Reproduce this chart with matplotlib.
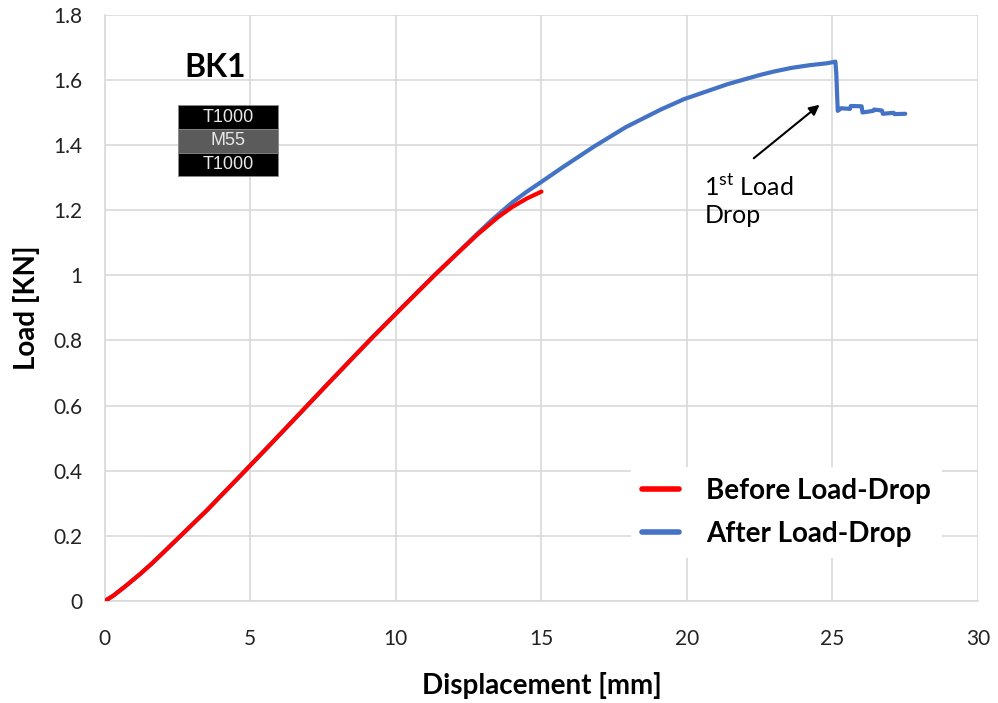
import matplotlib
matplotlib.use("Agg")
import matplotlib.pyplot as plt
from matplotlib.patches import Rectangle

plt.rcParams['font.family'] = ['Lato', 'DejaVu Sans']

# Load-displacement curve before the first load drop
disp_before = [0, 0.3, 0.7, 1.2, 1.6, 2, 2.6, 3.5, 4.8, 5.7, 6.7, 7.6, 8.5, 9.2, 10.2,
               11.3, 12.0, 12.8, 13.5, 14.0, 14.5, 15]
load_before = [0, 0.017, 0.045, 0.082, 0.114, 0.148, 0.2, 0.278, 0.398, 0.482, 0.576,
               0.661, 0.745, 0.81, 0.9, 0.998, 1.058, 1.125, 1.178, 1.21, 1.236, 1.257]

# Full curve, including the drop at ~25 mm
disp_after = [0, 0.3, 0.7, 1.2, 1.6, 2, 2.6, 3.5, 4.8, 5.7, 6.7, 7.6, 8.5, 9.2, 10.2,
              11.3, 12.0, 12.8, 13.3, 14.0, 14.5, 15.0, 15.7, 16.8, 17.9, 19.1, 19.9,
              21.4, 22.5, 23.0, 23.6, 24.2, 24.8, 25.1, 25.13, 25.18, 25.3, 25.6,
              25.63, 26.0, 26.03, 26.4, 26.43, 26.7, 26.73, 27.1, 27.13, 27.5]
load_after = [0, 0.017, 0.045, 0.082, 0.114, 0.148, 0.2, 0.278, 0.398, 0.482, 0.576,
              0.661, 0.745, 0.81, 0.9, 0.998, 1.058, 1.128, 1.17, 1.224, 1.257, 1.287,
              1.33, 1.395, 1.455, 1.509, 1.541, 1.587, 1.615, 1.626, 1.637, 1.645,
              1.651, 1.656, 1.62, 1.505, 1.513, 1.511, 1.52, 1.519, 1.5, 1.505, 1.509,
              1.506, 1.496, 1.499, 1.495, 1.496]

x_ticks = [0, 5, 10, 15, 20, 25, 30]
y_ticks = [0, 0.2, 0.4, 0.6, 0.8, 1, 1.2, 1.4, 1.6, 1.8]
y_tick_labels = ['0', '0.2', '0.4', '0.6', '0.8', '1', '1.2', '1.4', '1.6', '1.8']

# layup of the specimen, top to bottom
layers = ['T1000', 'M55', 'T1000']
layer_colors = ['black', '#5b5b5b', 'black']

fig = plt.figure(figsize=(9.98, 7.03), dpi=100)
ax = fig.add_axes([0.105, 0.145, 0.875, 0.834])

ax.plot(disp_after, load_after, color='#4472C4', lw=3, label='After Load-Drop',
        solid_capstyle='round', solid_joinstyle='round', zorder=3)
ax.plot(disp_before, load_before, color='#FF0000', lw=3, label='Before Load-Drop',
        solid_capstyle='round', solid_joinstyle='round', zorder=4)

ax.set_xlim(0, 30)
ax.set_ylim(0, 1.8)
ax.set_xticks(x_ticks)
ax.set_yticks(y_ticks)
ax.set_yticklabels(y_tick_labels)
ax.tick_params(length=0, labelsize=15, labelcolor='#222222')
ax.tick_params(axis='x', pad=20)
ax.tick_params(axis='y', pad=16)
ax.grid(True, color='#d9d9d9', lw=1.2)
ax.set_axisbelow(True)
for side in ['top', 'right']:
    ax.spines[side].set_visible(False)
for side in ['left', 'bottom']:
    ax.spines[side].set_color('#d9d9d9')
    ax.spines[side].set_linewidth(1.2)

ax.set_xlabel('Displacement [mm]', fontsize=20, fontweight='bold', labelpad=17)
ax.set_ylabel('Load [KN]', fontsize=20, fontweight='bold', labelpad=10)

# specimen title and layup box
ax.text(3.8, 1.637, 'BK1', fontsize=23, fontweight='bold', ha='center', va='center')
row_h = 0.0725
x0, w = 2.5, 3.45
y_top = 1.5215
for i, (name, col) in enumerate(zip(layers, layer_colors)):
    yb = y_top - (i + 1) * row_h
    ax.add_patch(Rectangle((x0, yb), w, row_h, facecolor=col, edgecolor='#888888',
                           lw=0.6, zorder=5))
    ax.text(x0 + w / 2, yb + row_h / 2, name, color='#e8e8e8', fontsize=13,
            family='Liberation Sans', ha='center', va='center', zorder=6)

# first load drop annotation
ax.annotate('', xy=(24.63, 1.529), xytext=(22.22, 1.354),
            arrowprops=dict(arrowstyle='-|>', color='black', lw=1.5, mutation_scale=15))
ax.text(20.6, 1.23, '1$^{\\mathregular{st}}$ Load\nDrop', fontsize=18, ha='left',
        va='center', linespacing=1.25)

handles, labels = ax.get_legend_handles_labels()
leg = ax.legend(handles[::-1], labels[::-1], loc='lower right',
                bbox_to_anchor=(0.975, 0.05), prop={'weight': 'bold', 'size': 20},
                frameon=True, fancybox=False, edgecolor='none', framealpha=1,
                handlelength=1.3, handletextpad=1.0, labelspacing=0.6)
for line in leg.get_lines():
    line.set_linewidth(4)

fig.savefig('out.png', dpi=100)
